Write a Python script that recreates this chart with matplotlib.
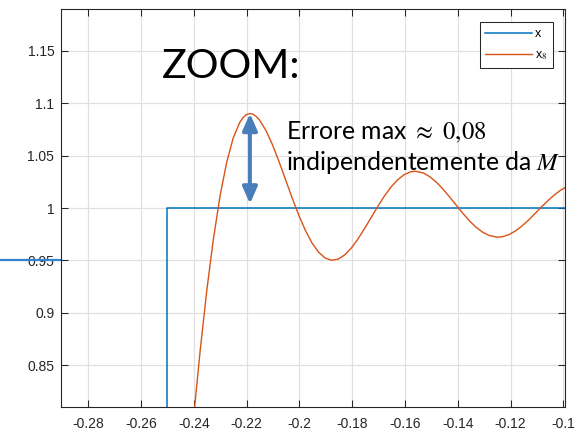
import matplotlib
matplotlib.use("Agg")
import matplotlib.pyplot as plt
from matplotlib.transforms import blended_transform_factory

plt.rcParams["font.family"] = ["Liberation Sans", "DejaVu Sans"]
plt.rcParams["mathtext.fontset"] = "stix"

# ideal square wave (rect starting at t = -0.25)
t_x = [-0.30, -0.25, -0.25, -0.09]
x_vals = [0.0, 0.0, 1.0, 1.0]

# partial sum x_8 near the jump (Gibbs ripple)
t_x8 = [-0.24503, -0.24254, -0.24005, -0.23757, -0.23508, -0.23259, -0.23011,
        -0.22762, -0.22513, -0.22265, -0.22140, -0.22016, -0.21875, -0.21767,
        -0.21643, -0.21519, -0.21270, -0.21021, -0.20772, -0.20524, -0.20275,
        -0.20026, -0.19778, -0.19529, -0.19280, -0.19032, -0.18783, -0.18534,
        -0.18286, -0.18037, -0.17788, -0.17540, -0.17291, -0.17042, -0.16794,
        -0.16545, -0.16296, -0.16048, -0.15799, -0.15625, -0.15302, -0.15053,
        -0.14804, -0.14555, -0.14307, -0.14058, -0.13809, -0.13561, -0.13312,
        -0.13063, -0.12815, -0.12500, -0.12317, -0.12069, -0.11820, -0.11571,
        -0.11323, -0.11074, -0.10825, -0.10577, -0.10328, -0.10079, -0.09831,
        -0.09582]
x8_vals = [0.6570, 0.7314, 0.8012, 0.8649, 0.9217, 0.9705, 1.0110,
           1.0430, 1.0664, 1.0815, 1.0861, 1.0890, 1.0901, 1.0895,
           1.0875, 1.0842, 1.0740, 1.0603, 1.0442, 1.0269, 1.0095,
           0.9932, 0.9788, 0.9669, 0.9580, 0.9524, 0.9502, 0.9513,
           0.9553, 0.9618, 0.9703, 0.9802, 0.9906, 1.0011, 1.0110,
           1.0196, 1.0266, 1.0316, 1.0345, 1.0351, 1.0334, 1.0297,
           1.0244, 1.0178, 1.0104, 1.0026, 0.9949, 0.9878, 0.9817,
           0.9770, 0.9738, 0.9722, 0.9726, 0.9746, 0.9781, 0.9829,
           0.9885, 0.9948, 1.0012, 1.0073, 1.0129, 1.0175, 1.0210,
           1.0230]

x_ticks = [-0.28, -0.26, -0.24, -0.22, -0.2, -0.18, -0.16, -0.14, -0.12, -0.1]
x_ticklabels = ["-0.28", "-0.26", "-0.24", "-0.22", "-0.2", "-0.18", "-0.16",
                "-0.14", "-0.12", "-0.1"]
y_ticks = [0.85, 0.9, 0.95, 1.0, 1.05, 1.1, 1.15]
y_ticklabels = ["0.85", "0.9", "0.95", "1", "1.05", "1.1", "1.15"]

marker_level = 0.95  # slide marker pointing at the 0.95 level

BLUE = "#0072BD"
ORANGE = "#D95319"
ARROW = "#4A7EBB"
DARK = "#262626"

fig = plt.figure(figsize=(5.85, 4.32), dpi=100)
ax = fig.add_axes([0.1048, 0.0572, 0.8602, 0.9213])

ax.plot(t_x, x_vals, color=BLUE, lw=1.1, label="x")
ax.plot(t_x8, x8_vals, color=ORANGE, lw=1.0, label="x$_8$")

ax.set_xlim(-0.2902, -0.0996)
ax.set_ylim(0.81, 1.1895)
ax.set_xticks(x_ticks)
ax.set_xticklabels(x_ticklabels)
ax.set_yticks(y_ticks)
ax.set_yticklabels(y_ticklabels)
ax.tick_params(direction="in", top=True, right=True, length=5, width=0.75,
               color=DARK, labelcolor=DARK, labelsize=10)
ax.tick_params(axis="x", pad=7)
ax.tick_params(axis="y", pad=5)
ax.grid(True, color="#e0e0e0", lw=0.9)
ax.set_axisbelow(True)
for sp in ax.spines.values():
    sp.set_color(DARK)
    sp.set_linewidth(0.8)

leg = ax.legend(loc="upper right", bbox_to_anchor=(0.9777, 0.9673),
                borderaxespad=0, fancybox=False, framealpha=1,
                edgecolor=DARK, fontsize=9, handlelength=3.7,
                handletextpad=0.3, borderpad=0.45, labelspacing=0.75)
leg.get_frame().set_linewidth(0.75)

# marker line running in from the left margin
trans = blended_transform_factory(ax.transAxes, ax.transData)
ax.plot([-0.125, 0.0], [marker_level, marker_level], color="#2F86CC", lw=1.6,
        transform=trans, clip_on=False)

# double arrow: max error between the peak and the level 1
i_peak = x8_vals.index(max(x8_vals))
ax.annotate("", xy=(t_x8[i_peak], max(x8_vals)), xytext=(t_x8[i_peak], 1.004),
            arrowprops=dict(arrowstyle="<|-|>,head_length=0.5,head_width=0.22",
                            mutation_scale=20, lw=2.8, color=ARROW,
                            shrinkA=0, shrinkB=0))

fig.text(0.2769, 0.8194, "ZOOM:", fontsize=29.5, family="Lato",
         color="black", va="baseline")
fig.text(0.4897, 0.6775, r"Errore max $\approx$ $0{,}08$", fontsize=17.8,
         family="Lato", color="black", va="baseline")
fig.text(0.4897, 0.6065, r"indipendentemente da $M$", fontsize=17.8,
         family="Lato", color="black", va="baseline")

fig.savefig("out.png", dpi=100, facecolor="white")
